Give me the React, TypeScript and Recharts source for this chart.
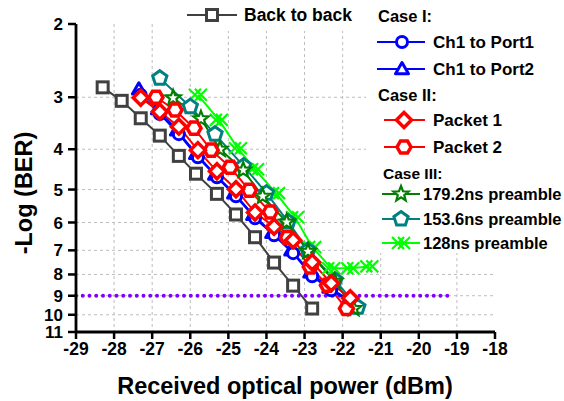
import React from "react";
import {
  CartesianGrid,
  Line,
  LineChart,
  ReferenceLine,
  XAxis,
  YAxis,
} from "recharts";

const FONT = '"Liberation Sans", Arial, sans-serif';

const X_TICKS = [-29, -28, -27, -26, -25, -24, -23, -22, -21, -20, -19, -18];
const Y_TICKS = [2, 3, 4, 5, 6, 7, 8, 9, 10, 11];
const GRID_X = [-28, -27, -26, -25, -24, -23, -22, -21, -20, -19];
const GRID_Y = [3, 4, 5, 6, 7, 8, 9, 10];

// FEC threshold (dotted line)
const FEC_LIMIT = 9;
const FEC_FROM = -29;
const FEC_TO = -19.1;

// received power (dBm) / -log(BER) per curve
const b2bPower = [-28.3, -27.8, -27.3, -26.8, -26.3, -25.85, -25.3, -24.8, -24.3, -23.8, -23.3, -22.8];
const b2bBer = [2.84, 3.06, 3.37, 3.71, 4.15, 4.58, 5.12, 5.74, 6.51, 7.49, 8.51, 9.66];

const port1Power = [-27.3, -26.8, -26.3, -25.8, -25.3, -24.8, -24.3, -23.8, -23.3, -22.8, -22.3, -21.8];
const port1Ber = [2.96, 3.29, 3.68, 4.18, 4.67, 5.19, 5.86, 6.44, 7.11, 8.08, 8.73, 9.33];

const port2Power = [-27.35, -26.85, -26.35, -25.85, -25.35, -24.85, -24.35, -23.85, -23.35, -22.85, -22.35, -21.85];
const port2Ber = [2.87, 3.2, 3.6, 4.1, 4.6, 5.1, 5.75, 6.35, 7.0, 7.9, 8.6, 9.2];

const packet1Power = [-27.3, -26.8, -26.3, -25.8, -25.3, -24.8, -24.3, -23.8, -23.3, -22.8, -22.3, -21.8];
const packet1Ber = [3.01, 3.25, 3.53, 4.02, 4.52, 4.99, 5.68, 6.14, 6.62, 7.48, 8.4, 9.13];

const packet2Power = [-26.9, -26.4, -25.9, -25.45, -24.95, -24.45, -23.9, -23.45, -22.85, -22.4, -21.9];
const packet2Ber = [3.0, 3.22, 3.56, 4.02, 4.42, 5.02, 5.66, 6.52, 7.67, 8.49, 9.66];

const pre179Power = [-26.45, -25.72, -25.22, -24.61, -24.1, -23.47, -22.91, -22.21, -21.71];
const pre179Ber = [3.01, 3.38, 4.0, 4.49, 5.19, 5.99, 7.04, 8.31, 9.66];

const pre153Power = [-26.8, -26.0, -25.35, -24.6, -24.0, -23.43, -22.91, -22.2, -21.6];
const pre153Ber = [2.7, 3.16, 3.68, 4.39, 5.1, 5.98, 7.0, 8.26, 9.59];

const pre128Power = [-25.8, -25.25, -24.75, -24.3, -23.75, -23.25, -22.8, -22.3, -21.8, -21.3];
const pre128Ber = [2.96, 3.4, 3.98, 4.47, 5.1, 5.83, 6.87, 7.73, 7.73, 7.65];

const pts = (xs: number[], ys: number[]) => xs.map((x, i) => ({ x, y: ys[i] }));

type Shape = "square" | "circle" | "triangle" | "diamond" | "hexagon" | "star" | "pentagon" | "cross";

function poly(cx: number, cy: number, r: number, n: number, start: number, inner?: number) {
  const out: string[] = [];
  const count = inner ? n * 2 : n;
  for (let i = 0; i < count; i++) {
    const a = start + (i * 2 * Math.PI) / count;
    const rr = inner && i % 2 === 1 ? inner : r;
    out.push(`${cx + rr * Math.cos(a)},${cy + rr * Math.sin(a)}`);
  }
  return out.join(" ");
}

function Marker({ shape, cx, cy, color }: { shape: Shape; cx: number; cy: number; color: string }) {
  const up = -Math.PI / 2;
  switch (shape) {
    case "square":
      return <rect x={cx - 5.5} y={cy - 5.5} width={11} height={11} fill="#fff" stroke={color} strokeWidth={3} />;
    case "circle":
      return <circle cx={cx} cy={cy} r={5.5} fill="#fff" stroke={color} strokeWidth={3} />;
    case "triangle":
      return <polygon points={poly(cx, cy + 1, 7.5, 3, up)} fill="#fff" stroke={color} strokeWidth={3} strokeLinejoin="round" />;
    case "diamond":
      return <polygon points={poly(cx, cy, 7.5, 4, up)} fill="#fff" stroke={color} strokeWidth={3.5} />;
    case "hexagon":
      return <polygon points={poly(cx, cy, 7, 6, 0)} fill="#fff" stroke={color} strokeWidth={3.5} />;
    case "star":
      return <polygon points={poly(cx, cy, 8, 5, up, 3.4)} fill="#fff" stroke={color} strokeWidth={2.2} />;
    case "pentagon":
      return <polygon points={poly(cx, cy, 7.5, 5, up)} fill="#fff" stroke={color} strokeWidth={3} />;
    case "cross":
      return (
        <g stroke={color} strokeWidth={2.2} fill="none">
          <path d={`M${cx - 9},${cy - 6} L${cx + 3},${cy + 6} M${cx - 9},${cy + 6} L${cx + 3},${cy - 6}`} />
          <path d={`M${cx - 3},${cy - 6} L${cx + 9},${cy + 6} M${cx - 3},${cy + 6} L${cx + 9},${cy - 6}`} />
        </g>
      );
  }
  return null;
}

const SERIES: { name: string; data: { x: number; y: number }[]; color: string; shape: Shape }[] = [
  { name: "Back to back", data: pts(b2bPower, b2bBer), color: "#404040", shape: "square" },
  { name: "Ch1 to Port2", data: pts(port2Power, port2Ber), color: "#0000ff", shape: "triangle" },
  { name: "Ch1 to Port1", data: pts(port1Power, port1Ber), color: "#0000ff", shape: "circle" },
  { name: "128ns preamble", data: pts(pre128Power, pre128Ber), color: "#00ff00", shape: "cross" },
  { name: "153.6ns preamble", data: pts(pre153Power, pre153Ber), color: "#008080", shape: "pentagon" },
  { name: "179.2ns preamble", data: pts(pre179Power, pre179Ber), color: "#007f00", shape: "star" },
  { name: "Packet 2", data: pts(packet2Power, packet2Ber), color: "#ff0000", shape: "hexagon" },
  { name: "Packet 1", data: pts(packet1Power, packet1Ber), color: "#ff0000", shape: "diamond" },
];

const bold = { fontFamily: FONT, fontWeight: 700, fill: "#000" };

function LegendItem({ y, x1, x2, mx, tx, size, color, shape, label }: any) {
  return (
    <g>
      <line x1={x1} x2={x2} y1={y} y2={y} stroke={color} strokeWidth={2} />
      <Marker shape={shape} cx={mx} cy={y} color={color} />
      <text x={tx} y={y} dominantBaseline="central" fontSize={size} {...bold}>
        {label}
      </text>
    </g>
  );
}

export default function App() {
  return (
    <div style={{ position: "absolute", left: 0, top: 0, width: 564, height: 401, background: "#fff" }}>
      <LineChart width={564} height={401} margin={{ top: 24, right: 69, left: 0, bottom: 0 }}>
        <CartesianGrid
          stroke="#bdbdbd"
          strokeDasharray="3 3"
          horizontalValues={GRID_Y}
          verticalValues={GRID_X}
        />
        <XAxis
          type="number"
          dataKey="x"
          domain={[-29, -18]}
          ticks={X_TICKS}
          interval={0}
          height={69}
          tickSize={7}
          tickMargin={4}
          axisLine={{ stroke: "#000", strokeWidth: 2.8 }}
          tickLine={{ stroke: "#000", strokeWidth: 2.5 }}
          tick={{ fontSize: 17.5, fontFamily: FONT, fontWeight: 700, fill: "#000" }}
        />
        <YAxis
          type="number"
          dataKey="y"
          scale="log"
          domain={[2, 11]}
          reversed
          allowDataOverflow
          ticks={Y_TICKS}
          interval={0}
          width={76}
          tickSize={8}
          tickMargin={5}
          axisLine={{ stroke: "#000", strokeWidth: 2.8 }}
          tickLine={{ stroke: "#000", strokeWidth: 2.5 }}
          tick={{ fontSize: 17, fontFamily: FONT, fontWeight: 700, fill: "#000" }}
        />
        <ReferenceLine
          segment={[
            { x: FEC_FROM, y: FEC_LIMIT },
            { x: FEC_TO, y: FEC_LIMIT },
          ]}
          stroke="#8000ff"
          strokeWidth={4}
          strokeDasharray="0 6.75"
          strokeLinecap="round"
          ifOverflow="visible"
        />
        {SERIES.map((s) => (
          <Line
            key={s.name}
            data={s.data}
            dataKey="y"
            name={s.name}
            stroke={s.color}
            strokeWidth={2}
            isAnimationActive={false}
            activeDot={false}
            dot={(p: any) => <Marker key={`${s.name}-${p.index}`} shape={s.shape} cx={p.cx} cy={p.cy} color={s.color} />}
          />
        ))}
      </LineChart>

      <svg width={564} height={401} style={{ position: "absolute", left: 0, top: 0, pointerEvents: "none" }}>
        <rect x={178} y={0} width={186} height={31} fill="#fff" />
        <rect x={366} y={0} width={198} height={253} fill="#fff" />

        <LegendItem y={15} x1={187} x2={237} mx={212} tx={244} size={17.5} color="#404040" shape="square" label="Back to back" />

        <text x={378} y={16} dominantBaseline="central" fontSize={16.5} {...bold}>Case I:</text>
        <LegendItem y={42} x1={377} x2={425} mx={402} tx={433} size={17} color="#0000ff" shape="circle" label="Ch1 to Port1" />
        <LegendItem y={69} x1={377} x2={425} mx={402} tx={433} size={17} color="#0000ff" shape="triangle" label="Ch1 to Port2" />

        <text x={378} y={95} dominantBaseline="central" fontSize={16.5} {...bold}>Case II:</text>
        <LegendItem y={120} x1={384} x2={425} mx={404} tx={433} size={17} color="#ff0000" shape="diamond" label="Packet 1" />
        <LegendItem y={147} x1={384} x2={425} mx={404} tx={433} size={17} color="#ff0000" shape="hexagon" label="Packet 2" />

        <text x={383} y={173} dominantBaseline="central" fontSize={15.5} {...bold}>Case III:</text>
        <LegendItem y={194} x1={382} x2={420} mx={401} tx={423} size={16.5} color="#007f00" shape="star" label="179.2ns preamble" />
        <LegendItem y={219} x1={382} x2={420} mx={401} tx={423} size={16.5} color="#008080" shape="pentagon" label="153.6ns preamble" />
        <LegendItem y={243} x1={382} x2={420} mx={401} tx={423} size={16.5} color="#00ff00" shape="cross" label="128ns preamble" />

        <text x={285} y={386} textAnchor="middle" dominantBaseline="central" fontSize={23.5} {...bold}>
          Received optical power (dBm)
        </text>
        <text
          x={24}
          y={193}
          transform="rotate(-90 24 193)"
          textAnchor="middle"
          dominantBaseline="central"
          fontSize={23.5}
          {...bold}
        >
          -Log (BER)
        </text>
      </svg>
    </div>
  );
}
